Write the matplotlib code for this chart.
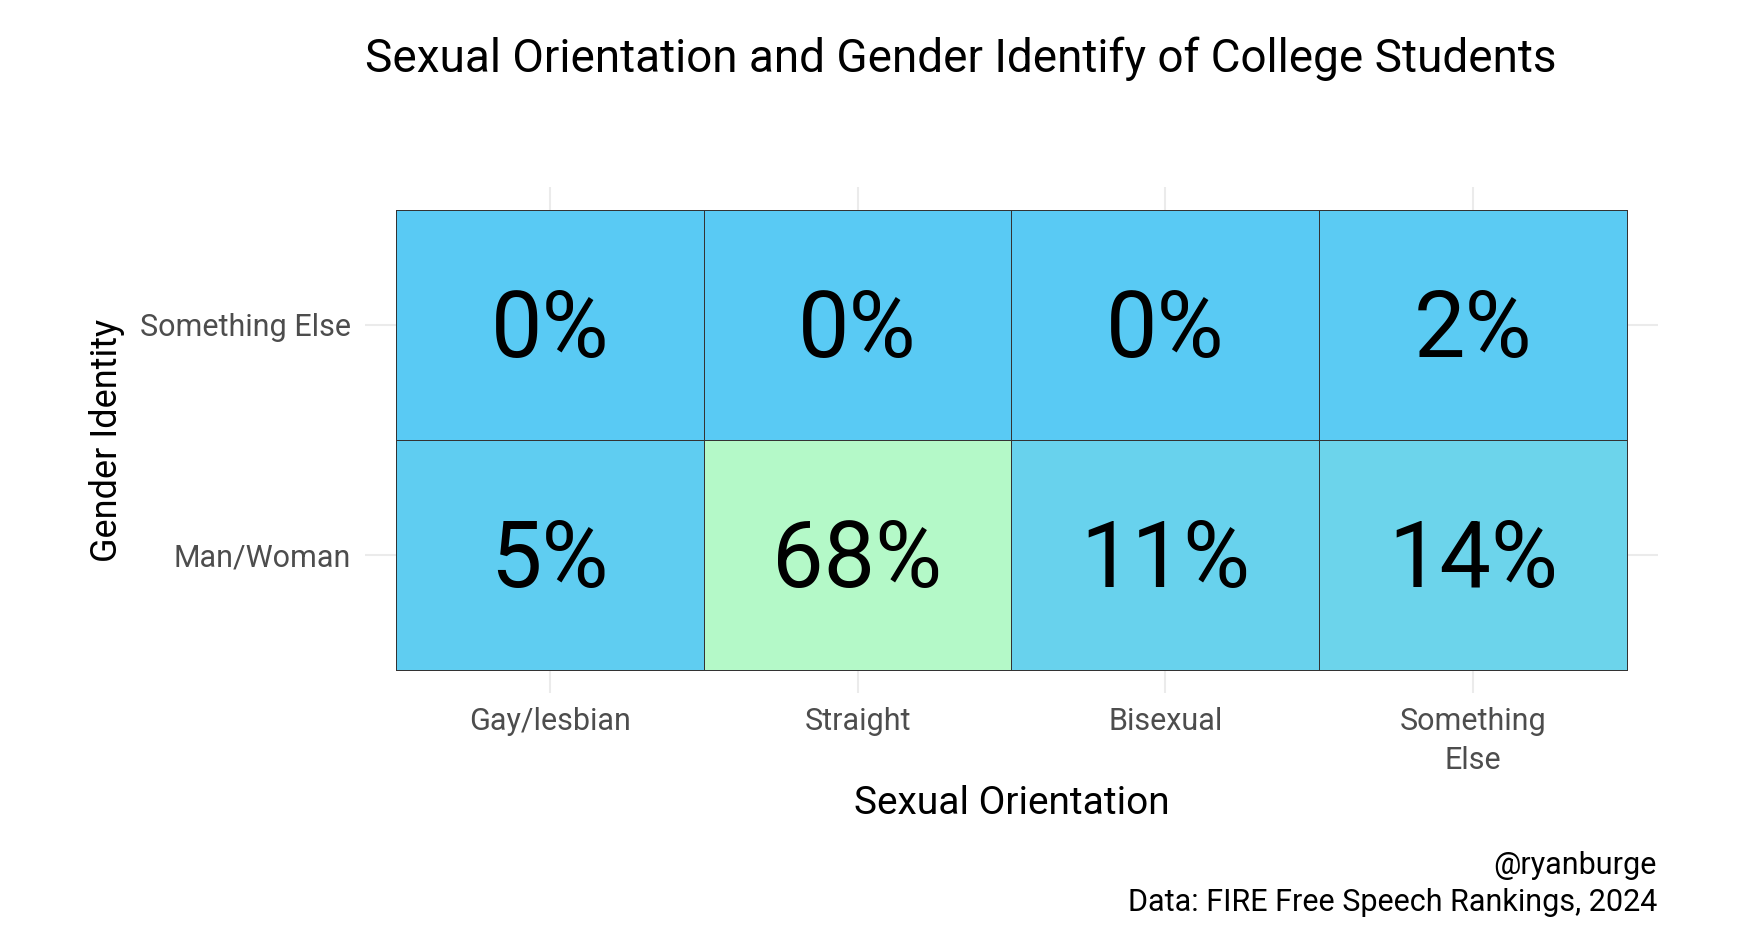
import matplotlib
matplotlib.use("Agg")
from matplotlib import pyplot as plt
from matplotlib.colors import LinearSegmentedColormap
import numpy as np

# data
orientations = ["Gay/lesbian", "Straight", "Bisexual", "Something\nElse"]
genders = ["Man/Woman", "Something Else"]
man_woman = [5, 68, 11, 14]
something_else = [0, 0, 0, 2]

title = "Sexual Orientation and Gender Identify of College Students"
caption = "@ryanburge\nData: FIRE Free Speech Rankings, 2024"

plt.rcParams['font.family'] = ['Roboto', 'DejaVu Sans']

values = np.array([man_woman, something_else])
cmap = LinearSegmentedColormap.from_list("fill", ["#59CAF4", "#B4F9C8"])

fig = plt.figure(figsize=(17.62, 9.52), dpi=100)
ax = fig.add_axes([0.2072, 0.2721, 0.7336, 0.5315])

xe = np.arange(len(orientations) + 1) + 0.5
ye = np.arange(len(genders) + 1) + 0.5
ax.pcolormesh(xe, ye, values, cmap=cmap, vmin=values.min(), vmax=values.max(),
              edgecolors="#333333", linewidth=0.5, zorder=2)

for r in range(values.shape[0]):
    for c in range(values.shape[1]):
        ax.text(c + 1, r + 1 - 0.03, f"{values[r, c]}%", ha="center", va="center",
                fontsize=66, color="black", zorder=3)

ax.set_xlim(0.4, len(orientations) + 0.6)
ax.set_ylim(0.4, len(genders) + 0.6)
ax.set_xticks(np.arange(1, len(orientations) + 1))
ax.set_xticklabels(orientations, fontsize=22, color="#4D4D4D", linespacing=1.45)
ax.set_yticks(np.arange(1, len(genders) + 1))
ax.set_yticklabels(genders, fontsize=22, color="#4D4D4D")
ax.tick_params(length=0, pad=10)
ax.grid(True, color="#EBEBEB", linewidth=1.5)
ax.set_axisbelow(True)
for s in ax.spines.values():
    s.set_visible(False)

ax.set_xlabel("Sexual Orientation", fontsize=28, va="center")
ax.xaxis.set_label_coords(0.5, -0.219)
ax.set_ylabel("Gender Identity", fontsize=26, va="center")
ax.yaxis.set_label_coords(-0.1996, 0.5)

fig.text(0.5454, 0.938, title, ha="center", va="center", fontsize=33)
fig.text(0.9404, 0.037, caption, ha="right", va="bottom", fontsize=22, linespacing=1.35)

plt.savefig("out.png", dpi=100)
